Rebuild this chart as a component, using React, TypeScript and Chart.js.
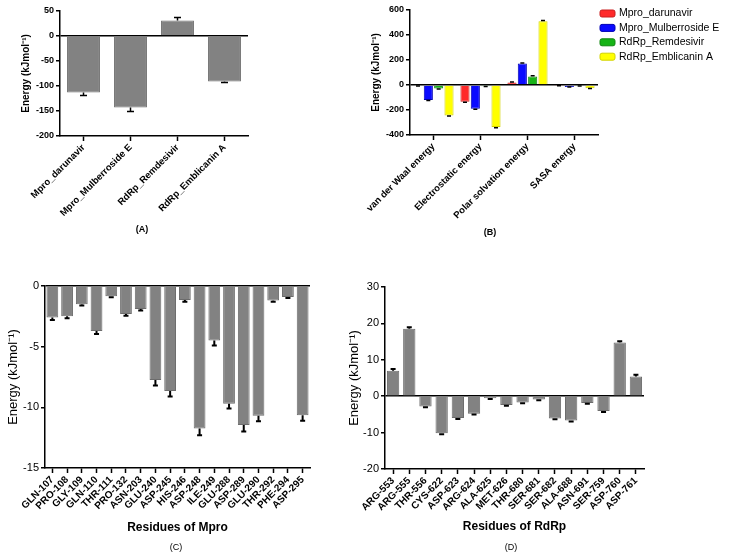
import React, { useEffect, useRef } from 'react';
import { Chart, registerables } from 'chart.js';

Chart.register(...registerables);

const FONT = '"Liberation Sans", Arial, Helvetica, sans-serif';
const Y_TITLE = 'Energy (kJmol⁻¹)';

// ---------- Panel A ----------
const systemsA = ['Mpro_darunavir', 'Mpro_Mulberroside E', 'RdRp_Remdesivir', 'RdRp_Emblicanin A'];
const bindingEnergyA = [-113, -143, 31, -91];
const bindingErrorA = [6, 8, 6, 2];

// ---------- Panel B ----------
const componentsB = ['van der Waal energy', 'Electrostatic energy', 'Polar solvation energy', 'SASA energy'];
const seriesNamesB = ['Mpro_darunavir', 'Mpro_Mulberroside E', 'RdRp_Remdesivir', 'RdRp_Emblicanin A'];
const darunavirB = [-5, -133, 21, -4];
const mulberrosideB = [-120, -189, 172, -15];
const remdesivirB = [-28, -10, 68, -7];
const emblicaninB = [-243, -336, 510, -25];
const darunavirErrB = [2, 5, 3, 1];
const mulberrosideErrB = [4, 5, 5, 1];
const remdesivirErrB = [3, 2, 6, 1];
const emblicaninErrB = [5, 5, 6, 3];
const seriesColorsB = ['#ff2a2a', '#0a0aff', '#16b316', '#ffff00'];
const seriesBordersB = ['#c81e1e', '#0000b4', '#0e860e', '#d2d200'];

// ---------- Panel C ----------
const residuesC = ['GLN-107', 'PRO-108', 'GLY-109', 'GLN-110', 'THR-111', 'PRO-132', 'ASN-203', 'GLU-240', 'ASP-245',
  'HIS-246', 'ASP-248', 'ILE-249', 'GLU-288', 'ASP-289', 'GLU-290', 'THR-292', 'PHE-294', 'ASP-295'];
const energyC = [-2.6, -2.5, -1.5, -3.7, -0.85, -2.3, -1.9, -7.75, -8.65, -1.15, -11.75, -4.5, -9.7, -11.45, -10.7, -1.2, -0.9, -10.65];
const errorC = [0.2, 0.15, 0.1, 0.25, 0.08, 0.15, 0.12, 0.45, 0.45, 0.15, 0.55, 0.4, 0.4, 0.55, 0.45, 0.1, 0.08, 0.45];

// ---------- Panel D ----------
const residuesD = ['ARG-553', 'ARG-555', 'THR-556', 'CYS-622', 'ASP-623', 'ARG-624', 'ALA-625', 'MET-626', 'THR-680',
  'SER-681', 'SER-682', 'ALA-688', 'ASN-691', 'SER-759', 'ASP-760', 'ASP-761'];
const energyD = [7.0, 18.5, -2.85, -10.2, -6.0, -4.85, -0.55, -2.4, -1.75, -0.9, -6.1, -6.7, -1.9, -4.1, 14.75, 5.4];
const errorD = [0.45, 0.45, 0.2, 0.25, 0.25, 0.2, 0.2, 0.25, 0.2, 0.2, 0.25, 0.25, 0.2, 0.25, 0.35, 0.5];

const GREY = '#828282';
const GREY_EDGE = '#6c6c6c';

const errorBarPlugin = {
  id: 'errorBars',
  afterDatasetsDraw(chart: any, _args: any, opts: any) {
    const ctx = chart.ctx;
    const yScale = chart.scales.y;
    const cap = opts.cap ?? 6;
    chart.data.datasets.forEach((ds: any, i: number) => {
      const errs = ds.errors;
      if (!errs) return;
      const meta = chart.getDatasetMeta(i);
      ctx.save();
      ctx.strokeStyle = '#000';
      ctx.lineWidth = opts.lineWidth ?? 1.5;
      meta.data.forEach((bar: any, j: number) => {
        const v = ds.data[j];
        const e = errs[j];
        const end = v + (v >= 0 ? e : -e);
        const x = bar.x;
        const y0 = yScale.getPixelForValue(v);
        const y1 = yScale.getPixelForValue(end);
        ctx.beginPath();
        ctx.moveTo(x, y0);
        ctx.lineTo(x, y1);
        ctx.moveTo(x - cap / 2, y1);
        ctx.lineTo(x + cap / 2, y1);
        ctx.stroke();
      });
      ctx.restore();
    });
  },
};

const sideLegendPlugin = {
  id: 'sideLegend',
  afterDraw(chart: any, _args: any, opts: any) {
    if (!opts || !opts.show) return;
    const { ctx, chartArea } = chart;
    ctx.save();
    ctx.font = `${opts.fontSize}px ${FONT}`;
    ctx.textBaseline = 'middle';
    ctx.textAlign = 'left';
    chart.data.datasets.forEach((ds: any, i: number) => {
      const y = opts.top + i * opts.step;
      const x = chartArea.right + opts.offset;
      ctx.fillStyle = ds.backgroundColor;
      ctx.strokeStyle = ds.borderColor;
      ctx.lineWidth = 1;
      ctx.beginPath();
      (ctx as any).roundRect(x, y - 3.5, 15, 7, 2);
      ctx.fill();
      ctx.stroke();
      ctx.fillStyle = '#000';
      ctx.fillText(ds.label, x + 19, y);
    });
    ctx.restore();
  },
};

interface AxisOpts {
  min: number; max: number; step: number; width: number;
  titleSize: number; titleWeight: string; titlePad: number;
  tickSize: number; tickWeight: string;
}

function yAxis(o: AxisOpts) {
  return {
    type: 'linear',
    min: o.min,
    max: o.max,
    ticks: {
      stepSize: o.step,
      color: '#000',
      padding: 2,
      font: { family: FONT, size: o.tickSize, weight: o.tickWeight },
    },
    grid: {
      drawOnChartArea: true,
      color: (c: any) => (c.tick && c.tick.value === 0 ? '#000' : 'rgba(0,0,0,0)'),
      lineWidth: 1.5,
      tickLength: 4,
      tickColor: '#000',
      tickWidth: 1.5,
    },
    border: { display: true, color: '#000', width: 1.5 },
    title: {
      display: true,
      text: Y_TITLE,
      color: '#000',
      font: { family: FONT, size: o.titleSize, weight: o.titleWeight, lineHeight: 1.2 },
      padding: { top: o.titlePad, bottom: 0 },
    },
    afterFit: (s: any) => { s.width = o.width; },
  };
}

interface XOpts { height: number; size: number; title?: string; titleSize?: number; titlePad?: number; }

function xAxis(o: XOpts) {
  return {
    type: 'category',
    offset: true,
    grid: {
      offset: false,
      drawOnChartArea: false,
      tickLength: 5,
      color: '#000',
      tickColor: '#000',
      tickWidth: 1.5,
    },
    border: { display: true, color: '#000', width: 1.5 },
    ticks: {
      autoSkip: false,
      minRotation: 45,
      maxRotation: 45,
      color: '#000',
      padding: 1,
      font: { family: FONT, size: o.size, weight: 'bold' },
    },
    title: o.title
      ? {
          display: true,
          text: o.title,
          color: '#000',
          font: { family: FONT, size: o.titleSize, weight: 'bold', lineHeight: 1.2 },
          padding: { top: 0, bottom: o.titlePad },
        }
      : { display: false },
    afterFit: (s: any) => { s.height = o.height; },
  };
}

function baseOptions(padTop: number, padRight: number, scales: any, plugins: any) {
  return {
    responsive: false,
    animation: false,
    devicePixelRatio: 1,
    layout: { padding: { left: 0, top: padTop, right: padRight, bottom: 0 } },
    scales,
    plugins: {
      legend: { display: false },
      tooltip: { enabled: false },
      ...plugins,
    },
  };
}

function greyDataset(data: number[], errors: number[], barPct: number) {
  return {
    data,
    errors,
    backgroundColor: GREY,
    borderColor: GREY_EDGE,
    borderWidth: 1,
    barPercentage: barPct,
    categoryPercentage: 1,
  } as any;
}

function configA() {
  return {
    type: 'bar',
    data: { labels: systemsA, datasets: [greyDataset(bindingEnergyA, bindingErrorA, 0.7)] },
    options: baseOptions(11, 52, {
      x: xAxis({ height: 134, size: 9.5 }),
      y: yAxis({ min: -200, max: 50, step: 50, width: 60, titleSize: 10, titleWeight: 'bold', titlePad: 20, tickSize: 9, tickWeight: 'bold' }),
    }, { errorBars: { cap: 7, lineWidth: 1.5 } }),
    plugins: [errorBarPlugin],
  };
}

function configB() {
  const values = [darunavirB, mulberrosideB, remdesivirB, emblicaninB];
  const errs = [darunavirErrB, mulberrosideErrB, remdesivirErrB, emblicaninErrB];
  return {
    type: 'bar',
    data: {
      labels: componentsB,
      datasets: seriesNamesB.map((name, i) => ({
        label: name,
        data: values[i],
        errors: errs[i],
        backgroundColor: seriesColorsB[i],
        borderColor: seriesBordersB[i],
        borderWidth: 1,
        barPercentage: 0.88,
        categoryPercentage: 0.88,
      })),
    },
    options: baseOptions(10, 131, {
      x: xAxis({ height: 135, size: 9.5 }),
      y: yAxis({ min: -400, max: 600, step: 200, width: 110, titleSize: 10, titleWeight: 'bold', titlePad: 70, tickSize: 9, tickWeight: 'bold' }),
    }, {
      errorBars: { cap: 4, lineWidth: 1.5 },
      sideLegend: { show: true, top: 13.5, step: 14.4, offset: 2, fontSize: 10.5 },
    }),
    plugins: [errorBarPlugin, sideLegendPlugin],
  };
}

function configC() {
  return {
    type: 'bar',
    data: { labels: residuesC, datasets: [greyDataset(energyC, errorC, 0.8)] },
    options: baseOptions(16, 30, {
      x: xAxis({ height: 87, size: 10, title: 'Residues of Mpro', titleSize: 12, titlePad: 20 }),
      y: yAxis({ min: -15, max: 0, step: 5, width: 45, titleSize: 13, titleWeight: 'normal', titlePad: 6, tickSize: 11, tickWeight: 'normal' }),
    }, { errorBars: { cap: 5, lineWidth: 2 } }),
    plugins: [errorBarPlugin],
  };
}

function configD() {
  return {
    type: 'bar',
    data: { labels: residuesD, datasets: [greyDataset(energyD, errorD, 0.76)] },
    options: baseOptions(17, 85, {
      x: xAxis({ height: 86, size: 10, title: 'Residues of RdRp', titleSize: 12, titlePad: 21 }),
      y: yAxis({ min: -20, max: 30, step: 10, width: 55, titleSize: 13, titleWeight: 'normal', titlePad: 17, tickSize: 11, tickWeight: 'normal' }),
    }, { errorBars: { cap: 5, lineWidth: 2 } }),
    plugins: [errorBarPlugin],
  };
}

function ChartCanvas(props: { left: number; top: number; width: number; height: number; make: () => any }) {
  const ref = useRef<HTMLCanvasElement | null>(null);
  useEffect(() => {
    if (!ref.current) return;
    const chart = new Chart(ref.current, props.make());
    return () => chart.destroy();
  }, []);
  return (
    <canvas
      ref={ref}
      width={props.width}
      height={props.height}
      style={{ position: 'absolute', left: props.left, top: props.top, width: props.width, height: props.height }}
    />
  );
}

function Caption(props: { x: number; y: number; text: string; bold: boolean }) {
  return (
    <div
      style={{
        position: 'absolute',
        left: props.x,
        top: props.y,
        transform: 'translate(-50%, -50%)',
        fontFamily: FONT,
        fontSize: 9,
        fontWeight: props.bold ? 'bold' : 'normal',
        color: '#000',
        whiteSpace: 'nowrap',
      }}
    >
      {props.text}
    </div>
  );
}

export default function App() {
  return (
    <div style={{ position: 'absolute', left: 0, top: 0, width: 729, height: 555, overflow: 'hidden', background: '#fff' }}>
      <ChartCanvas left={0} top={0} width={300} height={270} make={configA} />
      <ChartCanvas left={300} top={0} width={429} height={270} make={configB} />
      <ChartCanvas left={0} top={270} width={340} height={285} make={configC} />
      <ChartCanvas left={330} top={270} width={399} height={285} make={configD} />
      <Caption x={142} y={229} text="(A)" bold={true} />
      <Caption x={490} y={232} text="(B)" bold={true} />
      <Caption x={176} y={547} text="(C)" bold={false} />
      <Caption x={511} y={547} text="(D)" bold={false} />
    </div>
  );
}
